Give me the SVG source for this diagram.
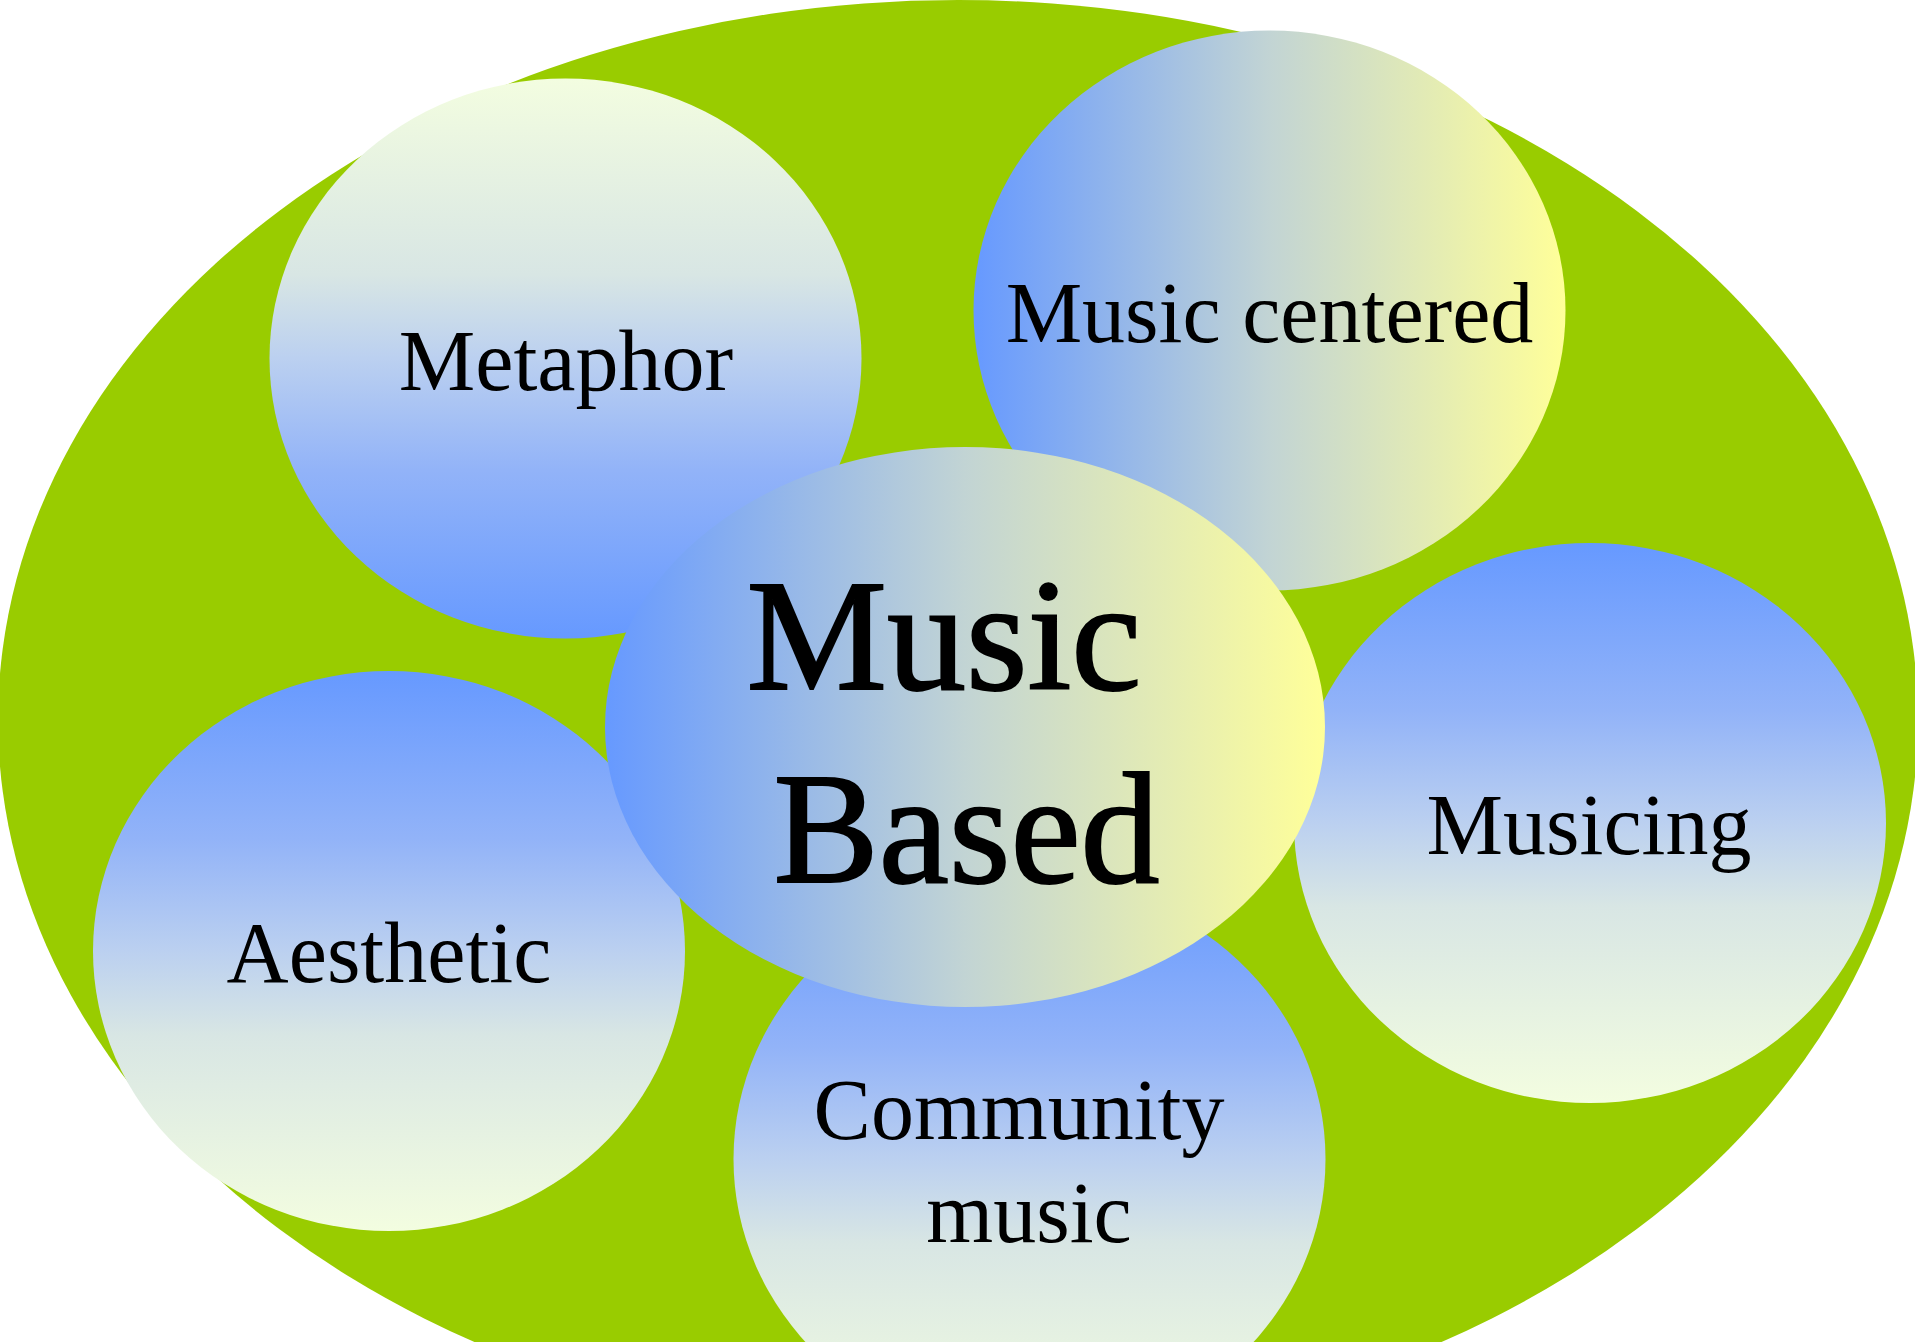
<svg xmlns="http://www.w3.org/2000/svg" width="1915" height="1342" viewBox="0 0 1915 1342">
  <defs>
    <linearGradient id="gH" x1="0" y1="0" x2="1" y2="0">
      <stop offset="0" stop-color="#6699FF"/>
      <stop offset="0.5" stop-color="#C2D4D4"/>
      <stop offset="1" stop-color="#FFFF99"/>
    </linearGradient>
    <linearGradient id="gDown" x1="0" y1="0" x2="0" y2="1">
      <stop offset="0" stop-color="#6699FF"/>
      <stop offset="0.3" stop-color="#92B3F8"/>
      <stop offset="0.5" stop-color="#BBD0F0"/>
      <stop offset="0.65" stop-color="#D8E6E4"/>
      <stop offset="1" stop-color="#F3FDE0"/>
    </linearGradient>
    <linearGradient id="gUp" x1="0" y1="1" x2="0" y2="0">
      <stop offset="0" stop-color="#6699FF"/>
      <stop offset="0.3" stop-color="#92B3F8"/>
      <stop offset="0.5" stop-color="#BBD0F0"/>
      <stop offset="0.65" stop-color="#D8E6E4"/>
      <stop offset="1" stop-color="#F3FDE0"/>
    </linearGradient>
  </defs>
  <style>
    .lbl { font-family: "Liberation Serif", "Times New Roman", serif; font-size: 86px; fill: #000000; text-anchor: middle; }
    .big { font-family: "Liberation Serif", "Times New Roman", serif; font-size: 158px; fill: #000000; text-anchor: middle; stroke: #000000; stroke-width: 2; }
  </style>
  <g id="background">
    <ellipse cx="958" cy="720" rx="960" ry="720" fill="#99CC00"/>
  </g>
  <g id="connectors"></g>
  <g id="metaphor">
    <ellipse cx="565.5" cy="358.5" rx="296" ry="280" fill="url(#gUp)"/>
    <text class="lbl" x="566" y="390">Metaphor</text>
  </g>
  <g id="music-centered">
    <ellipse cx="1269.5" cy="310.5" rx="296" ry="280" fill="url(#gH)"/>
    <text class="lbl" x="1269.5" y="341.5">Music centered</text>
  </g>
  <g id="aesthetic">
    <ellipse cx="389" cy="951" rx="296" ry="280" fill="url(#gDown)"/>
    <text class="lbl" x="389" y="982">Aesthetic</text>
  </g>
  <g id="musicing">
    <ellipse cx="1590" cy="823" rx="296" ry="280" fill="url(#gDown)"/>
    <text class="lbl" x="1589" y="854">Musicing</text>
  </g>
  <g id="community-music">
    <ellipse cx="1029.5" cy="1159" rx="296" ry="280" fill="url(#gDown)"/>
    <text class="lbl" x="1019" y="1139">Community</text>
    <text class="lbl" x="1029" y="1242">music</text>
  </g>
  <g id="music-based">
    <ellipse cx="965" cy="727" rx="360" ry="280" fill="url(#gH)"/>
    <text class="big" x="944" y="689">Music</text>
    <text class="big" x="966.5" y="882">Based</text>
  </g>
</svg>
